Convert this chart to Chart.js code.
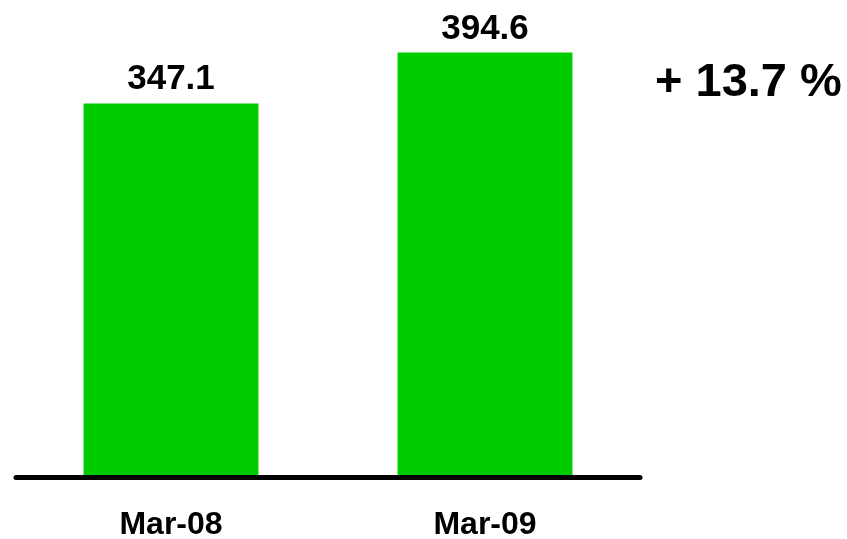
<!DOCTYPE html>
<html>
<head>
<meta charset="utf-8">
<script src="https://cdn.jsdelivr.net/npm/chart.js@4"></script>
<style>
  html, body { margin: 0; padding: 0; background: #fff; }
  #wrap { width: 847px; height: 539px; }
</style>
</head>
<body>
<div id="wrap"><canvas id="chart" width="847" height="539"></canvas></div>
<script>
const categories = ['Mar-08', 'Mar-09'];
const values = [347.1, 394.6];
const yMax = 440;

const fontFamily = '"Liberation Sans", Arial, sans-serif';

// growth text shown right of the bars
let growth = (values[1] / values[0] - 1) * 100;
let growthText = '+ ' + growth.toFixed(1) + ' %';

const barLabels = {
    id: 'barLabels',
    afterDatasetsDraw(chart) {
        let ctx = chart.ctx;
        let meta = chart.getDatasetMeta(0);
        let xScale = chart.scales.x;
        let area = chart.chartArea;
        ctx.save();
        // baseline, sits just under the bars
        ctx.strokeStyle = '#000';
        ctx.lineWidth = 5;
        ctx.lineCap = 'round';
        ctx.beginPath();
        ctx.moveTo(area.left + 2, area.bottom + 2.5);
        ctx.lineTo(area.right - 2, area.bottom + 2.5);
        ctx.stroke();

        ctx.fillStyle = '#000';
        ctx.textAlign = 'center';
        ctx.textBaseline = 'alphabetic';
        ctx.font = 'bold 35px ' + fontFamily;
        meta.data.forEach((bar, i) => {
            ctx.fillText(values[i].toFixed(1), bar.x, bar.y - 14);
        });
        // category labels under the axis line
        ctx.font = 'bold 32px ' + fontFamily;
        categories.forEach((c, i) => {
            ctx.fillText(c, xScale.getPixelForValue(i), area.bottom + 59);
        });
        ctx.font = 'bold 47px ' + fontFamily;
        ctx.textAlign = 'left';
        ctx.fillText(growthText, 655, 96);
        ctx.restore();
    }
};

new Chart(document.getElementById('chart'), {
    type: 'bar',
    data: {
        labels: categories,
        datasets: [{
            data: values,
            backgroundColor: '#00CC00',
            borderWidth: 0,
            barPercentage: 0.557,
            categoryPercentage: 1.0
        }]
    },
    options: {
        responsive: false,
        animation: false,
        layout: { padding: { left: 14, right: 205, top: 4, bottom: 0 } },
        plugins: {
            legend: { display: false },
            tooltip: { enabled: false }
        },
        scales: {
            y: {
                display: false,
                min: 0,
                max: yMax
            },
            x: {
                afterFit(scale) { scale.height = 64; },
                grid: { display: false, drawTicks: false },
                border: { display: false },
                ticks: { display: false }
            }
        }
    },
    plugins: [barLabels]
});
</script>
</body>
</html>
